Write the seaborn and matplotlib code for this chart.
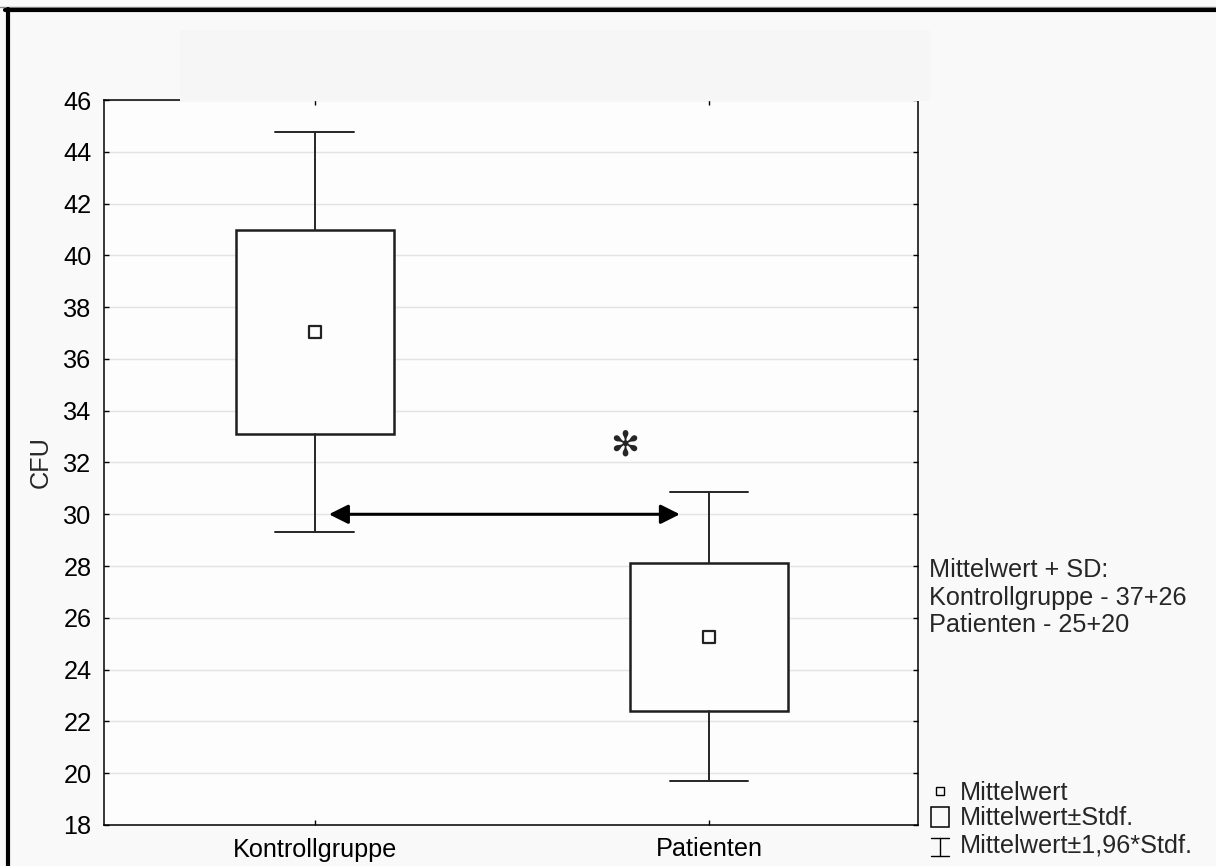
import numpy as np
import pandas as pd
import seaborn as sns
import matplotlib
matplotlib.use("Agg")
import matplotlib.pyplot as plt
from matplotlib.lines import Line2D
from matplotlib.patches import Rectangle

# ---- data -------------------------------------------------------------
groups = ["Kontrollgruppe", "Patienten"]
means = [37.05, 25.27]          # Mittelwert
sds = [3.94, 2.85]              # Stdf.
whisker_factor = 1.96           # Mittelwert ± 1,96*Stdf.
y_ticks = list(range(18, 47, 2))
summary_lines = ["Mittelwert + SD:", "Kontrollgruppe - 37+26", "Patienten - 25+20"]
legend_labels = ["Mittelwert", "Mittelwert±Stdf.", "Mittelwert±1,96*Stdf."]
arrow_y = 30.0
star_pos = (0.787, 32.65)

df = pd.DataFrame({"group": groups, "mean": means, "sd": sds})
df["pos"] = np.arange(len(df))

# ---- style ------------------------------------------------------------
FS = 18.2
sns.set_theme(style="ticks")
plt.rcParams["font.family"] = ["Liberation Sans", "DejaVu Sans"]
plt.rcParams["font.size"] = FS

W, H = 1216, 866
fig = plt.figure(figsize=(W / 100, H / 100), dpi=100, facecolor="#f9f9f9")
fx = lambda px: px / W
fy = lambda py: 1 - py / H

ax = fig.add_axes([fx(104), fy(825), fx(918) - fx(104), fy(100) - fy(825)])
ax.set_facecolor("#fdfdfd")

# ---- boxes: mean ± SD, whiskers: mean ± 1.96 SD ---------------------------
stats = []
for _, r in df.iterrows():
    stats.append(dict(
        med=r["mean"], mean=r["mean"],
        q1=r["mean"] - r["sd"], q3=r["mean"] + r["sd"],
        whislo=r["mean"] - whisker_factor * r["sd"],
        whishi=r["mean"] + whisker_factor * r["sd"],
        fliers=[], label=r["group"]))

ax.bxp(stats, positions=df["pos"], widths=0.4, capwidths=0.2,
       showfliers=False, showmeans=False, patch_artist=True,
       boxprops=dict(facecolor="#fdfdfd", edgecolor="#1e1e1e", linewidth=1.8),
       whiskerprops=dict(color="#262626", linewidth=1.4),
       capprops=dict(color="#262626", linewidth=1.4),
       medianprops=dict(visible=False), zorder=3)

sns.scatterplot(data=df, x="pos", y="mean", marker="s", s=70,
                fc="none", ec="#222222", linewidth=1.6, zorder=5, ax=ax,
                legend=False)

# significance arrow and asterisk
ax.annotate("", xy=(0.926, arrow_y), xytext=(0.0355, arrow_y),
            arrowprops=dict(arrowstyle="<|-|>,head_length=0.4,head_width=0.2",
                            mutation_scale=29, lw=2.2, color="black",
                            shrinkA=0, shrinkB=0), zorder=6)
ax.text(star_pos[0], star_pos[1], "\u273B", family="DejaVu Sans",
        fontsize=25, ha="center", va="center", zorder=6)

# ---- axes ---------------------------------------------------------------
ax.set_xlim(-0.535, 1.53)
ax.set_ylim(18, 46)
ax.set_yticks(y_ticks)
ax.set_xticks(df["pos"])
ax.set_xticklabels(groups)
ax.set_xlabel("")
ax.set_ylabel("CFU", fontsize=FS, va="center", rotation_mode="anchor")
ax.yaxis.set_label_coords((41 - 104) / 814, 0.5)
ax.grid(axis="y", color="#e3e3e3", linewidth=1.0, zorder=0)
ax.set_axisbelow(True)
ax.tick_params(axis="both", direction="in", top=True, right=True,
               length=3.5, width=1.0, color="black", labelsize=FS,
               labelcolor="black")
ax.tick_params(axis="y", pad=9)
ax.tick_params(axis="x", pad=9)
for sp in ax.spines.values():
    sp.set_visible(True)
    sp.set_color("black")
    sp.set_linewidth(1.1)

# light header band over the top of the frame
fig.patches.append(Rectangle((fx(180), fy(100.8)), fx(930) - fx(180),
                             fy(30) - fy(100.8), transform=fig.transFigure,
                             facecolor="#f6f6f6", edgecolor="none", zorder=1))

# outer frame lines
fig.lines.append(Line2D([0, 1], [fy(7), fy(7)], transform=fig.transFigure,
                        color="#8a8a8a", linewidth=1.0))
fig.lines.append(Line2D([fx(5), 1], [fy(10), fy(10)], transform=fig.transFigure,
                        color="black", linewidth=3.0))
fig.lines.append(Line2D([fx(7.5), fx(7.5)], [fy(9), 0], transform=fig.transFigure,
                        color="black", linewidth=3.0))

# ---- summary text -------------------------------------------------------
for txt, base in zip(summary_lines, [577, 605, 632]):
    fig.text(fx(929), fy(base), txt, ha="left", va="baseline", fontsize=FS)

# ---- legend -------------------------------------------------------------
fig.lines.append(Line2D([fx(940)], [fy(791)], transform=fig.transFigure,
                        marker="s", markersize=6.3, mfc="none", mec="black",
                        mew=1.0, linestyle="none"))
fig.patches.append(Rectangle((fx(931), fy(827)), fx(949) - fx(931),
                             fy(807) - fy(827), transform=fig.transFigure,
                             facecolor="none", edgecolor="black", linewidth=1.1))
for seg in ([(940, 838), (940, 856)], [(931, 838), (949, 838)], [(931, 856), (949, 856)]):
    (x0, y0), (x1, y1) = seg
    fig.lines.append(Line2D([fx(x0), fx(x1)], [fy(y0), fy(y1)],
                            transform=fig.transFigure, color="black", linewidth=1.0))
for txt, base in zip(legend_labels, [800, 825, 853]):
    fig.text(fx(960), fy(base), txt, ha="left", va="baseline", fontsize=FS)

fig.savefig("out.png", dpi=100, facecolor=fig.get_facecolor())
